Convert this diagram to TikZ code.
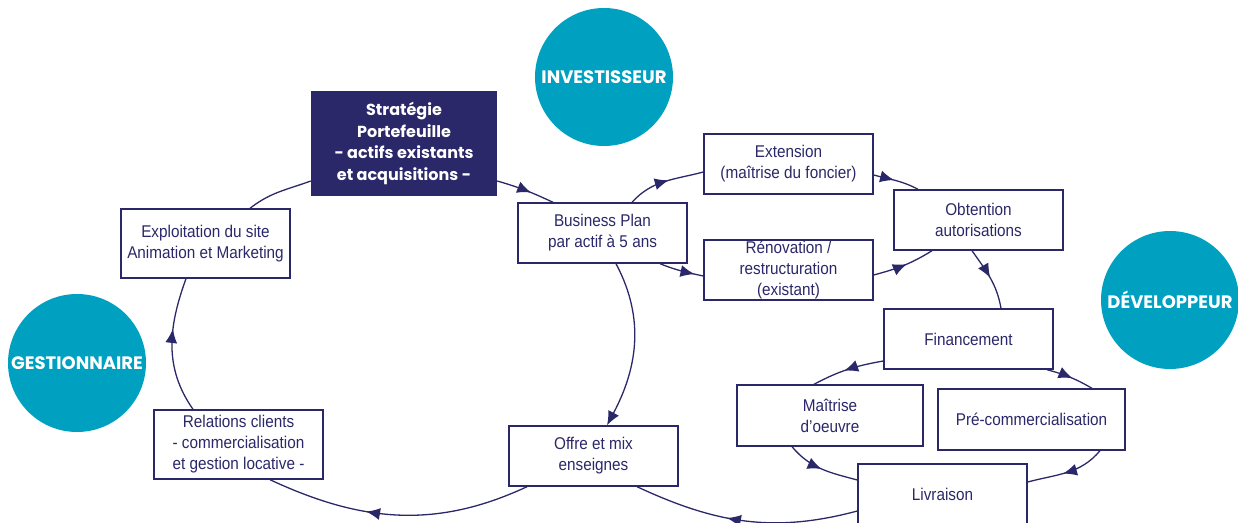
\documentclass[tikz,border=0pt]{standalone}
\usepackage{fontspec}
\usetikzlibrary{arrows.meta,decorations.markings,calc}
\newfontfamily\bodyfont[FakeStretch=0.9]{Liberation Sans}
\newfontfamily\headfont{Poppins}
\definecolor{navy}{HTML}{2B2869}
\definecolor{teal}{HTML}{00A0C0}
\tikzset{
  x=1pt,y=1pt,
  stepbox/.style={draw=navy,line width=1.4pt,fill=white,text=navy,align=center,
    font=\bodyfont\fontsize{17}{21}\selectfont,inner sep=0pt,
    minimum width=169pt,minimum height=60pt},
  stratbox/.style={fill=navy,text=white,align=center,inner sep=0pt,
    font=\headfont\bfseries\fontsize{16}{21.5}\selectfont,
    minimum width=186pt,minimum height=105pt},
  role/.style={circle,fill=teal,text=white,inner sep=0pt,minimum size=138pt,
    font=\headfont\bfseries\fontsize{18}{20}\selectfont},
  link/.style={draw=navy,line width=1.3pt},
  midarr/.style={postaction={decorate},decoration={markings,
    mark=at position #1 with {\arrow{Latex[length=14pt,width=12pt]}}}},
  endarr/.style={-{Latex[length=14pt,width=12pt]}}
}
\begin{document}
\begin{tikzpicture}
\useasboundingbox (0,0) rectangle (1238,522);
\clip (0,0) rectangle (1238,522);
% roles
\node[role] (inv) at (604,445) {INVESTISSEUR};
\node[role] (dev) at (1170,222) {DÉVELOPPEUR};
\node[role] (ges) at (77,159) {GESTIONNAIRE};
% boxes
\node[stratbox] (strat) at (404,378.5) {Stratégie\\Portefeuille\\- actifs existants\\et acquisitions -};
\node[stepbox] (bp) at (602.5,289) {Business Plan\\par actif à 5 ans};
\node[stepbox] (ext) at (788.5,358) {Extension\\(maîtrise du foncier)};
\node[stepbox] (obt) at (978.5,302) {Obtention\\autorisations};
\node[stepbox] (ren) at (788.5,252) {Rénovation /\\restructuration\\(existant)};
\node[stepbox] (fin) at (968.5,183) {Financement};
\node[stepbox,minimum width=186pt,minimum height=61pt] (mai) at (830,106.5) {Maîtrise\\d’oeuvre};
\node[stepbox,minimum width=187pt,minimum height=61pt] (pre) at (1031.5,102.5) {Pré-commercialisation};
\node[stepbox] (liv) at (942.5,28) {Livraison};
\node[stepbox,minimum height=69pt] (exp) at (205.5,278.5) {Exploitation du site\\Animation et Marketing};
\node[stepbox,minimum height=69pt] (rel) at (238.5,77.5) {Relations clients\\- commercialisation\\et gestion locative -};
\node[stepbox] (off) at (593.5,66) {Offre et mix\\enseignes};
% big loop
\path[link] ([xshift=44.5]exp.north) to[out=38,in=200] ([yshift=-37.5]strat.west);
\path[link,midarr=0.6] ([yshift=-37.5]strat.east) to[out=-16,in=155] ([xshift=-49.5]bp.north);
\path[link,endarr] ([xshift=13.5]bp.south) to[out=-62,in=62] ([xshift=13.5]off.north);
\path[link,midarr=0.62] ([xshift=-66.5]off.south) to[out=-155,in=-25] ([xshift=31.5]rel.south);
\path[link,midarr=0.62] ([xshift=-45.5]rel.north) to[out=125,in=-110] ([xshift=-19.5]exp.south);
\path[link,midarr=0.58] ([yshift=-17]liv.west) to[out=-165,in=-25] ([xshift=43.5]off.south);
% development branch
\path[link,midarr=0.55] ([xshift=29.5]bp.north) to[out=48,in=195] ([yshift=-8]ext.west);
\path[link,midarr=0.8] ([xshift=57.5]bp.south) to[out=-22,in=168] ([yshift=-6]ren.west);
\path[link,midarr=0.45] ([yshift=-11]ext.east) to[out=-15,in=152] ([xshift=-60.5]obt.north);
\path[link,midarr=0.55] ([yshift=-5]ren.east) to[out=15,in=-148] ([xshift=-46.5]obt.south);
\path[link,midarr=0.5] ([xshift=-6.5]obt.south) to[out=-55,in=100] ([xshift=32.5]fin.north);
\path[link,midarr=0.55] ([yshift=-22]fin.west) to[out=190,in=28] ([xshift=-16]mai.north);
\path[link,midarr=0.55] ([xshift=78.5]fin.south) to[out=-15,in=150] ([xshift=60.5]pre.north);
\path[link,midarr=0.5] ([xshift=-38]mai.south) to[out=-50,in=165] ([yshift=14]liv.west);
\path[link,midarr=0.55] ([xshift=68.5]pre.south) to[out=-130,in=15] ([yshift=12]liv.east);
\end{tikzpicture}
\end{document}
